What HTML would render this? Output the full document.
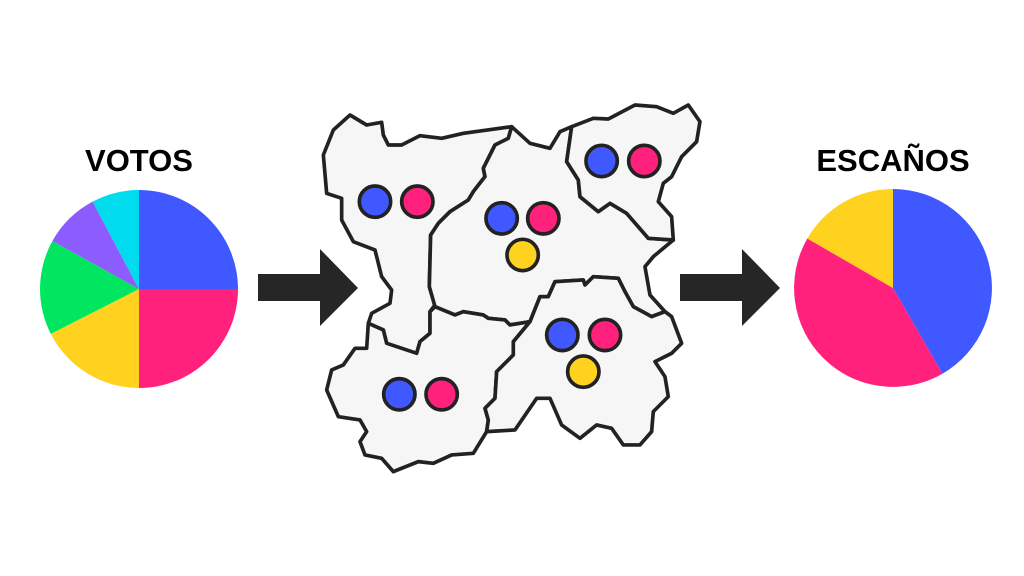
<!DOCTYPE html>
<html><head><meta charset="utf-8"><style>
html,body{margin:0;padding:0;background:#fff;}
svg{display:block;}
</style></head><body>
<svg width="1024" height="576" viewBox="0 0 1024 576" xmlns="http://www.w3.org/2000/svg">
<rect width="1024" height="576" fill="#fff"/>
<text x="139" y="171" text-anchor="middle" font-family="Liberation Sans, sans-serif" font-weight="bold" font-size="31" fill="#000">VOTOS</text>
<text x="893" y="171" text-anchor="middle" font-family="Liberation Sans, sans-serif" font-weight="bold" font-size="31" fill="#000">ESCAÑOS</text>
<!-- left pie -->
<path d="M139,289 L139,190 A99,99 0 0 1 238,289 Z" fill="#4058ff"/>
<path d="M139,289 L238,289 A99,99 0 0 1 139,388 Z" fill="#ff217c"/>
<path d="M139,289 L139,388 A99,99 0 0 1 50.8,333.9 Z" fill="#ffd21f"/>
<path d="M139,289 L50.8,333.9 A99,99 0 0 1 52.4,241 Z" fill="#00e660"/>
<path d="M139,289 L52.4,241 A99,99 0 0 1 92.6,201.6 Z" fill="#8c5cff"/>
<path d="M139,289 L92.6,201.6 A99,99 0 0 1 139,190 Z" fill="#00dcee"/>
<!-- right pie -->
<path d="M893,288 L893,189 A99,99 0 0 1 942.5,373.7 Z" fill="#4058ff"/>
<path d="M893,288 L942.5,373.7 A99,99 0 0 1 807.3,238.5 Z" fill="#ff217c"/>
<path d="M893,288 L807.3,238.5 A99,99 0 0 1 893,189 Z" fill="#ffd21f"/>
<!-- arrows -->
<polygon points="258,274 320,274 320,249 358,288 320,326 320,301 258,301" fill="#262626"/>
<polygon points="680,274 742,274 742,249 780,288 742,326 742,301 680,301" fill="#262626"/>
<!-- map -->
<g transform="translate(320,95) scale(0.3333)" fill="#f6f6f6" stroke="#222" stroke-width="11" stroke-linejoin="round">
<polygon points="90,60 140,90 185,82 190,120 205,150 245,150 300,122 365,130 430,115 575,95 565,130 525,150 490,220 495,245 460,290 445,315 390,350 355,385 332,420 328,575 345,630 330,650 330,715 300,740 290,775 200,745 190,705 145,685 155,655 210,625 215,585 185,545 165,465 100,440 65,375 65,310 20,295 10,180 40,105"/>
<polygon points="575,95 630,145 690,160 720,110 755,95 740,200 775,255 780,305 835,350 870,325 920,355 985,430 1060,435 1000,485 975,515 990,600 1035,650 995,665 940,635 915,590 895,550 820,545 795,570 790,555 705,560 685,605 660,605 630,680 570,690 555,675 505,670 490,660 430,650 405,660 345,635 328,575 332,420 355,385 390,350 445,315 460,290 495,245 490,220 525,150 565,130"/>
<polygon points="755,95 820,70 865,72 945,30 1010,35 1060,55 1105,30 1140,80 1130,140 1085,185 1055,245 1030,265 1015,320 1055,365 1060,435 985,430 920,355 870,325 835,350 780,305 775,255 740,200"/>
<polygon points="345,635 405,660 430,650 490,660 505,670 555,675 570,690 630,680 580,740 580,780 530,830 525,910 495,940 505,975 500,1010 460,1075 395,1080 340,1105 295,1100 220,1130 185,1090 135,1080 120,1040 140,1010 120,975 55,965 20,885 35,825 70,810 105,760 140,760 145,685 190,705 200,745 290,775 300,740 330,715 330,650"/>
<polygon points="630,680 660,605 685,605 705,560 790,555 795,570 820,545 895,550 915,590 940,635 995,665 1035,650 1055,665 1085,745 1055,775 1005,800 1035,845 1045,905 1000,950 995,1010 960,1050 910,1050 875,1000 830,990 780,1030 725,990 690,910 650,910 585,1005 500,1010 505,975 495,940 525,910 530,830 580,780 580,740"/>
<g stroke-width="11">
<circle cx="165" cy="320" r="47" fill="#4058ff"/><circle cx="292" cy="320" r="47" fill="#ff217c"/>
<circle cx="545" cy="370" r="47" fill="#4058ff"/><circle cx="670" cy="370" r="47" fill="#ff217c"/><circle cx="608" cy="480" r="47" fill="#ffd21f"/>
<circle cx="845" cy="198" r="47" fill="#4058ff"/><circle cx="973" cy="198" r="47" fill="#ff217c"/>
<circle cx="727" cy="720" r="47" fill="#4058ff"/><circle cx="855" cy="720" r="47" fill="#ff217c"/><circle cx="790" cy="830" r="47" fill="#ffd21f"/>
<circle cx="238" cy="898" r="47" fill="#4058ff"/><circle cx="365" cy="898" r="47" fill="#ff217c"/>
</g>
</g>
</svg>
</body></html>
